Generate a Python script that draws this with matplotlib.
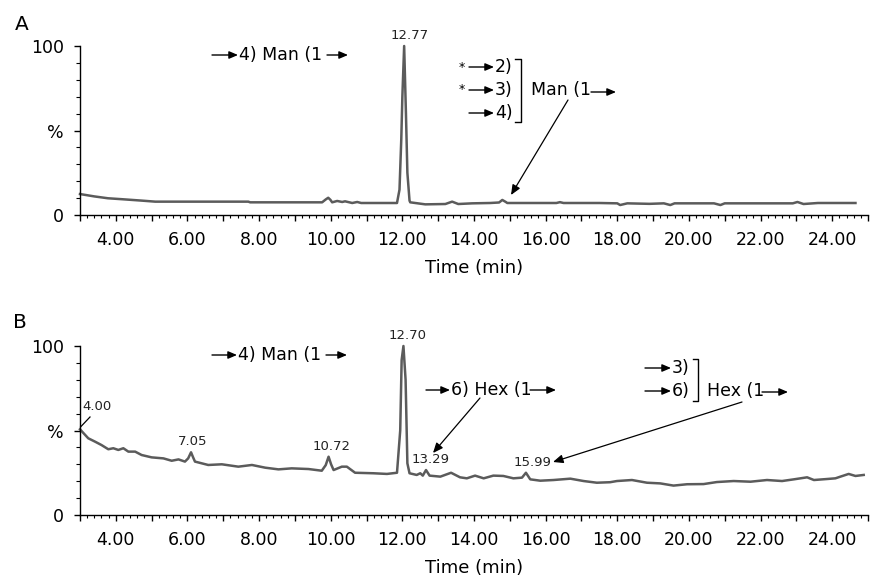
import matplotlib
matplotlib.use("Agg")
import matplotlib.pyplot as plt
from matplotlib.ticker import MultipleLocator, FixedLocator, FuncFormatter
from matplotlib.patches import FancyArrowPatch
from matplotlib.lines import Line2D

W, H = 882, 585

# ---- chromatogram A: time (min) and relative intensity (%) ----
time_a = [3.0, 3.4, 3.78, 4.2, 4.73, 5.1, 6.0, 7.0, 7.7, 7.75, 8.5, 9.5, 9.76,
          9.86, 9.93, 9.99, 10.04, 10.18, 10.32, 10.4, 10.6, 10.74, 10.85, 11.5,
          11.85, 11.92, 11.97, 12.0, 12.05, 12.1, 12.14, 12.2, 12.22, 12.64, 13.2,
          13.39, 13.56, 13.95, 14.45, 14.7, 14.79, 14.88, 14.93, 16.3, 16.4, 16.5,
          17.5, 18.0, 18.08, 18.28, 18.9, 19.3, 19.48, 19.6, 20.7, 20.88, 21.0,
          22.9, 23.03, 23.2, 23.6, 24.65]
intensity_a = [12.4, 11.0, 9.9, 9.3, 8.5, 7.9, 7.9, 7.9, 7.9, 7.5, 7.5, 7.5, 7.5,
               9.2, 10.2, 9.0, 7.5, 8.3, 7.7, 8.1, 7.1, 7.7, 7.1, 7.1,
               7.1, 15.0, 45.0, 70.0, 100.0, 60.0, 25.0, 8.5, 7.5, 6.3, 6.5,
               7.9, 6.5, 6.9, 7.1, 7.4, 8.9, 7.8, 7.1, 7.1, 7.6, 7.1,
               7.1, 6.9, 5.9, 6.9, 6.6, 6.9, 5.9, 6.9, 6.9, 5.9, 6.9,
               6.9, 7.7, 6.5, 7.1, 7.1]

# ---- chromatogram B ----
time_b = [3.0, 3.23, 3.42, 3.6, 3.79, 3.93, 4.07, 4.21, 4.35, 4.54, 4.72, 5.0,
          5.33, 5.56, 5.75, 5.93, 6.02, 6.1, 6.16, 6.21, 6.58, 6.96, 7.42, 7.8,
          8.17, 8.54, 8.91, 9.38, 9.75, 9.86, 9.94, 10.01, 10.08, 10.31, 10.45,
          10.68, 11.19, 11.57, 11.85, 11.94, 11.98, 12.03, 12.09, 12.14, 12.2,
          12.4, 12.5, 12.57, 12.66, 12.76, 13.06, 13.36, 13.61, 13.8, 14.03,
          14.27, 14.54, 14.82, 15.1, 15.34, 15.45, 15.57, 15.85, 16.22, 16.69,
          17.06, 17.43, 17.8, 17.99, 18.41, 18.83, 19.2, 19.57, 19.95, 20.41,
          20.78, 21.25, 21.72, 22.18, 22.6, 22.93, 23.3, 23.49, 23.86, 24.09,
          24.23, 24.46, 24.65, 24.88]
intensity_b = [50.7, 45.4, 43.4, 41.4, 38.9, 39.5, 38.5, 39.5, 37.5, 37.5, 35.5, 34.1,
               33.5, 32.1, 32.9, 31.6, 33.5, 37.1, 34.0, 31.6, 29.6, 30.0, 28.6, 29.6,
               28.0, 27.0, 27.6, 27.2, 26.2, 29.5, 34.5, 30.0, 26.6, 28.6, 28.6,
               25.0, 24.7, 24.3, 25.0, 50.0, 91.7, 100.0, 80.0, 30.6, 24.7,
               23.7, 24.7, 23.3, 26.6, 23.3, 22.7, 25.0, 22.3, 21.7, 23.3,
               21.7, 23.3, 23.1, 21.7, 22.1, 25.0, 21.1, 20.3, 20.7, 21.5,
               20.1, 19.1, 19.4, 20.1, 20.7, 19.1, 18.7, 17.4, 18.2, 18.3,
               19.5, 20.1, 19.7, 20.7, 20.1, 21.1, 22.3, 20.7, 21.3, 21.7,
               22.7, 24.3, 23.1, 23.7]

# peak retention-time labels and the apex they sit on
peak_labels_a = [12.77]
peak_apex_a = [(12.05, 100.0)]
peak_offset_a = [(4, 3)]          # label offset in points

peak_labels_b = [4.00, 7.05, 10.72, 12.70, 13.29, 15.99]
peak_apex_b = [(3.0, 50.7), (6.1, 37.1), (9.94, 34.5), (12.03, 100.0),
               (12.66, 26.6), (15.45, 25.0)]
peak_offset_b = [(12, 12), (1, 3), (2, 3), (3, 3), (3, 3), (5, 3)]

x_tick_labels = ["4.00", "6.00", "8.00", "10.00", "12.00",
                 "14.00", "16.00", "18.00", "20.00", "22.00", "24.00"]

LINE = "#5b5b5b"
plt.rcParams["font.family"] = ["DejaVu Sans"]

fig = plt.figure(figsize=(W / 100, H / 100), dpi=100)


def P(x, y):
    return (x / W, 1 - y / H)


def make_axes(bottom_px, t, v, labels, apexes, offsets):
    ax = fig.add_axes([80 / W, 1 - bottom_px / H, 788 / W, 169 / H])
    ax.plot(t, v, color=LINE, lw=1.8, clip_on=False, solid_joinstyle="round")
    ax.set_xlim(3, 25)
    ax.set_ylim(0, 100)
    for s in ("top", "right"):
        ax.spines[s].set_visible(False)
    for s in ("left", "bottom"):
        ax.spines[s].set_linewidth(1.0)
    ax.xaxis.set_major_locator(MultipleLocator(1))
    ax.xaxis.set_minor_locator(MultipleLocator(0.2))
    lab = {float(s): s for s in x_tick_labels}
    ax.xaxis.set_major_formatter(FuncFormatter(lambda x, p: lab.get(round(x, 2), "")))
    ax.yaxis.set_major_locator(FixedLocator([0, 50, 100]))
    ax.yaxis.set_minor_locator(MultipleLocator(10))
    ax.set_yticklabels(["0", "%", "100"])
    ax.tick_params(axis="x", which="major", length=4.5, width=1, pad=7, labelsize=12.5)
    ax.tick_params(axis="x", which="minor", length=2.5, width=0.8)
    ax.tick_params(axis="y", which="major", length=4.5, width=1, pad=7, labelsize=12.5)
    ax.tick_params(axis="y", which="minor", length=3, width=0.8)
    ax.set_xlabel("Time (min)", fontsize=13, labelpad=7)
    for val, (xa, ya), (dx, dy) in zip(labels, apexes, offsets):
        ax.annotate(f"{val:.2f}", xy=(xa, ya), xytext=(dx, dy),
                    textcoords="offset points", ha="center", va="bottom",
                    fontsize=9.5, color="#222222", annotation_clip=False)
    return ax


ax_a = make_axes(215, time_a, intensity_a, peak_labels_a, peak_apex_a, peak_offset_a)
ax_b = make_axes(515, time_b, intensity_b, peak_labels_b, peak_apex_b, peak_offset_b)


def arrow(x0, y0, x1, y1, lw=1.0, scale=7):
    fig.add_artist(FancyArrowPatch(P(x0, y0), P(x1, y1), transform=fig.transFigure,
                                   arrowstyle="-|>,head_length=0.75,head_width=0.32",
                                   mutation_scale=scale, lw=lw, color="black",
                                   shrinkA=0, shrinkB=0))


def line(xs, ys, lw=1.0):
    fig.add_artist(Line2D([x / W for x in xs], [1 - y / H for y in ys],
                          transform=fig.transFigure, color="black", lw=lw))


def text(x, y, s, size=12.5, ha="left", va="center", **kw):
    fig.text(*P(x, y), s, fontsize=size, ha=ha, va=va, **kw)


# panel letters
text(22, 24, "A", size=14.5, ha="center")
text(20, 322, "B", size=14.5, ha="center")

# ---- panel A annotations ----
arrow(212, 55, 238, 55)
text(239, 55, "4) Man (1")
arrow(327, 55, 348, 55)

for yy, lab, star in [(67, "2)", True), (90, "3)", True), (113, "4)", False)]:
    if star:
        text(462, yy, "*", size=9, ha="center")
    arrow(469, yy, 494, yy)
    text(495, yy, lab)
line([515, 521, 521, 515], [59, 59, 122, 122])
text(531, 90, "Man (1")
arrow(591, 92, 616, 92)
arrow(568, 100, 511, 195, lw=0.9, scale=8)

# ---- panel B annotations ----
arrow(212, 355, 237, 355)
text(238, 355, "4) Man (1")
arrow(326, 355, 347, 355)

arrow(426, 390, 450, 390)
text(451, 390, "6) Hex (1")
arrow(530, 390, 556, 390)
arrow(480, 398, 433, 453, lw=0.9, scale=8)

arrow(645, 368, 671, 368)
text(672, 368, "3)")
arrow(645, 391, 671, 391)
text(672, 391, "6)")
line([693, 698, 698, 693], [359, 359, 401, 401])
text(707, 391, "Hex (1")
arrow(762, 392, 788, 392)
arrow(742, 402, 553, 462, lw=0.9, scale=8)

# leader from the 4.00 label to the trace start
line([90, 80.5], [417, 427], lw=0.9)

fig.savefig("out.png", dpi=100)
